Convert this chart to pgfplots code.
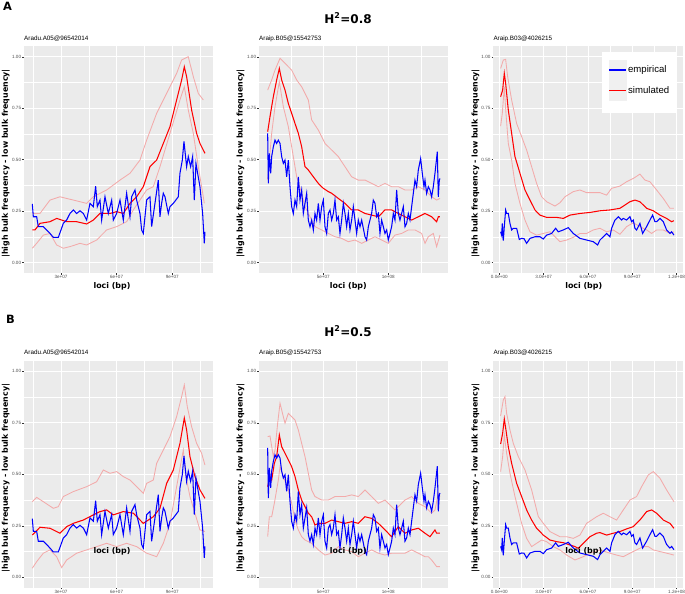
\documentclass[border=0pt]{standalone}
\usepackage{fontspec}
\setmainfont{Liberation Sans}
\newfontfamily\djb{DejaVu Sans}
\usepackage{pgfplots}
\pgfplotsset{compat=1.18}
\usepackage{pgfplotstable}
\definecolor{ggbg}{RGB}{235,235,235}
\definecolor{gg30}{RGB}{77,77,77}
\definecolor{gg20}{RGB}{51,51,51}
\definecolor{ggkey}{RGB}{240,240,240}
\definecolor{lred}{RGB}{243,170,170}
\newcommand\labfont{\djb\bfseries\fontsize{7.9}{9}\selectfont}
\pgfplotsset{
  gg/.style={
    scale only axis, width=189.3pt, height=227pt, anchor=south west,
    ymin=-0.05, ymax=1.052,
    axis background/.style={fill=ggbg},
    axis line style={draw=none},
    grid=both,
    major grid style={draw=white, line width=0.9pt},
    minor grid style={draw=white, line width=0.45pt},
    ytick={0,0.25,0.5,0.75,1}, yticklabels={0.00,0.25,0.50,0.75,1.00},
    minor ytick={0.125,0.375,0.625,0.875},
    tick align=outside, xtick pos=bottom, ytick pos=left,
    major tick length=1.6pt, minor tick length=0pt,
    tick style={draw=gg20, line width=0.4pt},
    ticklabel style={font=\fontsize{4.6}{5}\selectfont, text=gg30, inner sep=0.5pt},
    yticklabel style={xshift=-0.6pt},
    xticklabel style={yshift=-0.4pt},
  },
  lr/.style={draw=lred, line width=0.85pt, forget plot},
  sim/.style={draw=red, line width=1.05pt},
  emp/.style={draw=blue, line width=1.05pt},
  simkey/.style={legend image code/.code={\fill[ggkey] (0pt,-10pt) rectangle (17.3pt,10pt); \draw[red, line width=1.5pt] (0.3pt,0pt) -- (17pt,0pt);}},
  empkey/.style={legend image code/.code={\fill[ggkey] (0pt,-10pt) rectangle (17.3pt,10pt); \draw[blue, line width=1.5pt] (0.3pt,0pt) -- (17pt,0pt);}},
}
% empirical series (same in both rows)
\pgfplotstableread[row sep=\\]{
14.55 0.285\\ 15.09 0.223\\ 16.89 0.223\\ 17.78 0.175\\ 20.48 0.175\\ 22.28 0.159\\ 24.07 0.142\\ 25.87 0.123\\ 28.56 0.123\\ 30.00 0.159\\
31.26 0.191\\ 33.05 0.207\\ 34.85 0.239\\ 36.65 0.256\\ 38.44 0.239\\ 40.24 0.252\\ 42.04 0.239\\ 43.83 0.207\\ 45.63 0.288\\ 47.43 0.272\\
48.68 0.372\\ 49.58 0.272\\ 51.02 0.304\\ 51.92 0.207\\ 53.71 0.320\\ 55.51 0.239\\ 57.31 0.304\\ 58.20 0.207\\ 60.00 0.239\\ 61.80 0.304\\
63.59 0.207\\ 65.39 0.337\\ 67.19 0.223\\ 68.08 0.320\\ 69.88 0.353\\ 70.78 0.304\\ 72.57 0.239\\ 73.47 0.159\\ 74.37 0.142\\ 76.17 0.304\\
77.96 0.320\\ 78.86 0.175\\ 80.66 0.288\\ 82.45 0.401\\ 83.35 0.223\\ 84.25 0.288\\ 85.15 0.337\\ 86.05 0.320\\ 87.84 0.239\\ 88.74 0.272\\
90.54 0.288\\ 93.23 0.320\\ 94.13 0.434\\ 95.39 0.498\\ 96.29 0.589\\ 97.72 0.466\\ 98.62 0.515\\ 99.88 0.466\\ 100.96 0.515\\ 101.86 0.304\\
102.75 0.482\\ 103.65 0.434\\ 104.91 0.369\\ 106.35 0.239\\ 107.25 0.094\\ 107.60 0.150\\
}\empA
\pgfplotstableread[row sep=\\]{
7.18 0.628\\ 7.69 0.385\\ 8.46 0.531\\ 9.49 0.434\\ 10.26 0.515\\ 11.54 0.563\\ 12.82 0.595\\ 14.10 0.579\\ 15.38 0.595\\ 16.67 0.579\\
17.95 0.515\\ 19.23 0.482\\ 20.51 0.498\\ 21.79 0.417\\ 23.08 0.498\\ 24.36 0.369\\ 25.64 0.272\\ 26.92 0.239\\ 28.21 0.304\\ 29.49 0.272\\
30.77 0.417\\ 32.05 0.304\\ 33.33 0.353\\ 34.62 0.239\\ 35.90 0.288\\ 37.18 0.337\\ 38.46 0.207\\ 39.74 0.175\\ 41.03 0.207\\ 42.31 0.159\\
43.59 0.239\\ 44.87 0.207\\ 46.15 0.288\\ 47.44 0.207\\ 48.72 0.272\\ 50.00 0.304\\ 51.28 0.175\\ 52.56 0.142\\ 53.85 0.239\\ 55.13 0.256\\
56.41 0.207\\ 57.69 0.239\\ 58.97 0.304\\ 60.26 0.207\\ 61.54 0.223\\ 62.82 0.142\\ 64.10 0.207\\ 65.38 0.288\\ 66.67 0.239\\ 67.95 0.175\\
69.23 0.239\\ 70.51 0.159\\ 71.79 0.207\\ 73.08 0.272\\ 74.36 0.207\\ 75.64 0.142\\ 76.92 0.207\\ 78.21 0.175\\ 79.49 0.207\\ 82.05 0.126\\
83.33 0.110\\ 84.62 0.175\\ 87.18 0.239\\ 88.46 0.304\\ 89.74 0.288\\ 91.03 0.223\\ 92.31 0.239\\ 93.59 0.142\\ 94.87 0.207\\ 96.15 0.175\\
97.44 0.142\\ 98.72 0.159\\ 100.00 0.110\\ 101.28 0.142\\ 102.56 0.175\\ 103.85 0.239\\ 105.13 0.207\\ 106.41 0.353\\ 107.69 0.239\\ 108.97 0.207\\
110.26 0.239\\ 111.54 0.272\\ 112.82 0.175\\ 114.10 0.191\\ 115.38 0.239\\ 116.67 0.207\\ 117.95 0.272\\ 119.23 0.337\\ 120.51 0.401\\ 121.79 0.369\\
123.08 0.450\\ 124.87 0.506\\ 126.15 0.434\\ 127.44 0.369\\ 128.21 0.401\\ 129.49 0.337\\ 130.77 0.369\\ 132.05 0.353\\ 133.33 0.320\\ 134.62 0.369\\
135.90 0.434\\ 137.69 0.539\\ 138.46 0.320\\ 139.23 0.401\\ 139.74 0.409\\
}\empB
\pgfplotstableread[row sep=\\]{
0.90 0.150\\ 1.58 0.134\\ 2.03 0.191\\ 2.71 0.107\\ 3.38 0.175\\ 4.29 0.256\\ 4.96 0.239\\ 6.09 0.239\\ 7.22 0.191\\ 8.35 0.159\\
9.47 0.167\\ 11.73 0.167\\ 13.53 0.113\\ 15.11 0.118\\ 16.69 0.117\\ 18.50 0.094\\ 20.75 0.118\\ 24.14 0.126\\ 27.52 0.126\\ 29.77 0.115\\
32.03 0.134\\ 35.41 0.142\\ 38.12 0.167\\ 39.92 0.150\\ 43.31 0.159\\ 46.69 0.170\\ 50.07 0.142\\ 54.59 0.118\\ 59.10 0.110\\ 63.61 0.102\\
66.54 0.086\\ 68.12 0.110\\ 70.37 0.126\\ 72.63 0.142\\ 74.89 0.126\\ 76.01 0.167\\ 78.27 0.207\\ 80.52 0.223\\ 82.78 0.207\\ 83.91 0.215\\
86.16 0.207\\ 88.42 0.223\\ 89.55 0.199\\ 90.68 0.207\\ 91.80 0.167\\ 92.93 0.159\\ 95.19 0.191\\ 96.99 0.142\\ 99.70 0.175\\ 101.95 0.207\\
103.76 0.231\\ 105.34 0.199\\ 106.46 0.199\\ 108.72 0.215\\ 110.98 0.199\\ 113.23 0.159\\ 115.49 0.142\\ 116.62 0.150\\ 118.19 0.134\\
}\empC
\begin{document}
\begin{tikzpicture}[x=1pt,y=1pt]
\useasboundingbox (0,0) rectangle (685,594);
% ---------------- row A ----------------
\begin{axis}[gg, at={(24pt,321pt)}, xmin=10.06, xmax=112.1,
  xtick={30,60,90}, xticklabels={3e+07,6e+07,9e+07}, minor xtick={15,45,75,105}]
\addplot[lr] table[row sep=\\]{14.55 0.239\\ 18.68 0.239\\ 24.07 0.304\\ 29.46 0.320\\ 36.65 0.304\\ 43.83 0.288\\ 47.43 0.320\\ 54.61 0.353\\ 61.80 0.401\\ 67.19 0.434\\ 72.57 0.498\\ 76.17 0.595\\ 81.56 0.725\\ 86.95 0.822\\ 92.33 0.919\\ 95.03 0.984\\ 96.83 0.992\\ 98.62 1.000\\ 101.32 0.903\\ 104.01 0.822\\ 106.71 0.790\\};
\addplot[lr] table[row sep=\\]{14.55 0.070\\ 16.89 0.094\\ 20.48 0.134\\ 24.07 0.142\\ 27.66 0.086\\ 31.26 0.070\\ 34.85 0.078\\ 40.24 0.094\\ 43.83 0.086\\ 49.22 0.110\\ 54.61 0.159\\ 60.00 0.175\\ 65.39 0.199\\ 68.98 0.256\\ 72.57 0.304\\ 76.17 0.353\\ 79.76 0.369\\ 83.35 0.466\\ 88.74 0.628\\ 94.13 0.790\\ 96.47 0.854\\ 98.62 0.741\\ 101.32 0.628\\ 104.01 0.466\\ 106.71 0.320\\ 107.25 0.288\\};
\addplot[sim] table[row sep=\\]{14.55 0.159\\ 15.99 0.159\\ 18.68 0.191\\ 24.07 0.199\\ 27.66 0.215\\ 33.05 0.199\\ 38.44 0.199\\ 43.83 0.188\\ 47.43 0.207\\ 51.02 0.239\\ 56.41 0.239\\ 60.00 0.248\\ 63.59 0.239\\ 67.19 0.288\\ 70.78 0.320\\ 74.37 0.369\\ 77.96 0.466\\ 81.56 0.498\\ 85.15 0.579\\ 88.74 0.660\\ 92.33 0.790\\ 95.03 0.887\\ 96.47 0.951\\ 97.72 0.903\\ 100.42 0.741\\ 103.11 0.628\\ 104.91 0.579\\ 107.60 0.531\\};
\addplot[emp] table {\empA};
\end{axis}
\begin{axis}[gg, at={(259pt,321pt)}, xmin=0.51, xmax=146.15,
  xtick={50,100}, xticklabels={5e+07,1e+08}, minor xtick={25,75,125}]
\addplot[lr] table[row sep=\\]{7.18 0.838\\ 10.26 0.887\\ 12.82 0.935\\ 16.67 0.992\\ 20.51 0.968\\ 25.64 0.935\\ 29.49 0.887\\ 33.33 0.854\\ 35.90 0.822\\ 38.46 0.790\\ 41.03 0.693\\ 46.15 0.644\\ 51.28 0.579\\ 56.41 0.547\\ 61.54 0.515\\ 66.67 0.466\\ 71.79 0.417\\ 76.92 0.401\\ 82.05 0.401\\ 87.18 0.385\\ 92.31 0.369\\ 97.44 0.385\\ 102.56 0.369\\ 107.69 0.369\\ 112.82 0.353\\ 117.95 0.353\\ 123.08 0.369\\ 128.21 0.353\\ 133.33 0.320\\ 137.18 0.304\\ 139.74 0.312\\};
\addplot[lr] table[row sep=\\]{7.18 0.401\\ 10.26 0.628\\ 12.82 0.757\\ 16.15 0.879\\ 19.23 0.757\\ 23.08 0.660\\ 25.64 0.563\\ 29.49 0.417\\ 33.33 0.337\\ 35.90 0.272\\ 38.46 0.239\\ 43.59 0.175\\ 48.72 0.159\\ 53.85 0.142\\ 58.97 0.126\\ 64.10 0.118\\ 69.23 0.102\\ 74.36 0.110\\ 79.49 0.094\\ 84.62 0.110\\ 89.74 0.126\\ 94.87 0.110\\ 100.00 0.094\\ 105.13 0.134\\ 110.26 0.142\\ 115.38 0.159\\ 120.51 0.159\\ 125.64 0.142\\ 128.21 0.094\\ 130.77 0.126\\ 134.62 0.142\\ 137.18 0.078\\ 139.74 0.134\\};
\addplot[sim] table[row sep=\\]{7.18 0.636\\ 8.97 0.709\\ 11.54 0.806\\ 14.10 0.887\\ 16.15 0.943\\ 17.95 0.887\\ 20.51 0.838\\ 23.08 0.773\\ 25.64 0.725\\ 28.21 0.676\\ 30.77 0.628\\ 33.33 0.563\\ 35.90 0.466\\ 38.46 0.450\\ 42.31 0.417\\ 46.15 0.385\\ 50.00 0.361\\ 53.85 0.345\\ 56.41 0.337\\ 61.54 0.312\\ 66.67 0.288\\ 71.79 0.256\\ 76.92 0.256\\ 82.05 0.239\\ 87.18 0.231\\ 92.31 0.223\\ 97.44 0.256\\ 102.56 0.256\\ 107.69 0.239\\ 112.82 0.223\\ 117.95 0.207\\ 123.08 0.223\\ 128.21 0.239\\ 133.33 0.223\\ 137.18 0.199\\ 138.46 0.223\\ 139.74 0.223\\};
\addplot[emp] table {\empB};
\end{axis}
\begin{axis}[gg, at={(493.3pt,321pt)}, xmin=-4.06, xmax=124.06,
  xtick={0,30,60,90,120}, xticklabels={0.0e+00,3.0e+07,6.0e+07,9.0e+07,1.2e+08}, minor xtick={15,45,75,105},
  legend image code/.code={},
  legend style={at={(rel axis cs:0.972,0.975)}, anchor=north east, fill=white, draw=none,
    font=\fontsize{9.6}{11}\selectfont, inner xsep=6.5pt, inner ysep=8pt, row sep=0pt,
    nodes={inner sep=1.4pt}},
  legend cell align=left]
\addplot[lr] table[row sep=\\]{0.90 0.943\\ 2.71 0.984\\ 4.29 0.987\\ 5.64 0.903\\ 8.35 0.790\\ 11.73 0.676\\ 15.11 0.612\\ 18.50 0.547\\ 21.88 0.466\\ 25.26 0.385\\ 28.65 0.320\\ 32.03 0.296\\ 37.67 0.275\\ 41.05 0.291\\ 44.44 0.320\\ 50.07 0.345\\ 54.59 0.353\\ 59.10 0.340\\ 68.12 0.340\\ 72.63 0.328\\ 76.01 0.361\\ 81.65 0.372\\ 86.16 0.393\\ 90.68 0.409\\ 95.19 0.430\\ 98.57 0.401\\ 101.95 0.393\\ 106.46 0.353\\ 110.98 0.312\\ 115.49 0.264\\ 118.19 0.264\\};
\addplot[lr] table[row sep=\\]{0.90 0.663\\ 2.03 0.725\\ 3.38 0.854\\ 4.51 0.725\\ 6.09 0.579\\ 8.35 0.498\\ 10.60 0.385\\ 13.98 0.288\\ 17.37 0.207\\ 20.75 0.150\\ 25.26 0.134\\ 29.77 0.142\\ 34.28 0.150\\ 37.67 0.126\\ 41.05 0.102\\ 45.56 0.110\\ 50.07 0.123\\ 54.59 0.142\\ 59.10 0.142\\ 63.61 0.159\\ 68.12 0.167\\ 72.63 0.150\\ 77.14 0.159\\ 81.65 0.138\\ 86.16 0.175\\ 90.68 0.194\\ 95.19 0.175\\ 99.70 0.159\\ 103.08 0.142\\ 106.46 0.159\\ 110.98 0.159\\ 115.49 0.142\\ 118.19 0.150\\};
\addplot[sim, forget plot] table[row sep=\\]{0.90 0.806\\ 2.26 0.838\\ 3.38 0.919\\ 4.29 0.871\\ 6.09 0.741\\ 8.35 0.628\\ 10.60 0.515\\ 13.98 0.434\\ 17.37 0.353\\ 20.75 0.304\\ 24.14 0.256\\ 27.52 0.231\\ 32.03 0.220\\ 38.80 0.220\\ 43.31 0.215\\ 47.82 0.231\\ 54.59 0.239\\ 61.35 0.244\\ 68.12 0.252\\ 74.89 0.256\\ 81.65 0.264\\ 88.42 0.296\\ 91.80 0.304\\ 95.19 0.296\\ 99.70 0.264\\ 104.21 0.252\\ 108.72 0.231\\ 113.23 0.215\\ 116.62 0.199\\ 118.19 0.204\\};
\addplot[emp, forget plot] table {\empC};
\addlegendimage{empkey}
\addlegendentry{empirical}
\addlegendimage{simkey}
\addlegendentry{simulated}
\addlegendimage{}
\addlegendentry{}
\end{axis}
% ---------------- row B ----------------
\begin{axis}[gg, at={(24pt,6.4pt)}, xmin=10.06, xmax=112.1,
  xtick={30,60,90}, xticklabels={3e+07,6e+07,9e+07}, minor xtick={15,45,75,105}]
\addplot[lr] table[row sep=\\]{14.55 0.367\\ 16.89 0.388\\ 20.48 0.367\\ 25.87 0.335\\ 28.56 0.343\\ 31.26 0.392\\ 36.65 0.416\\ 43.83 0.440\\ 49.22 0.464\\ 52.81 0.521\\ 56.41 0.505\\ 60.00 0.513\\ 63.59 0.489\\ 67.19 0.472\\ 70.78 0.440\\ 74.37 0.408\\ 76.17 0.456\\ 79.76 0.472\\ 81.56 0.553\\ 85.15 0.618\\ 88.74 0.683\\ 92.33 0.780\\ 95.03 0.877\\ 96.47 0.934\\ 98.08 0.828\\ 100.42 0.731\\ 103.11 0.650\\ 105.81 0.602\\ 107.60 0.545\\};
\addplot[lr] table[row sep=\\]{14.55 0.044\\ 16.89 0.076\\ 20.48 0.117\\ 24.07 0.133\\ 27.66 0.100\\ 30.36 0.047\\ 33.05 0.084\\ 38.44 0.117\\ 43.83 0.133\\ 49.22 0.149\\ 54.61 0.165\\ 60.00 0.149\\ 65.39 0.165\\ 70.78 0.149\\ 76.17 0.117\\ 81.56 0.100\\ 85.15 0.165\\ 88.74 0.262\\ 92.33 0.440\\ 95.93 0.618\\ 97.37 0.489\\ 99.52 0.392\\ 102.21 0.311\\ 104.91 0.230\\ 107.60 0.222\\};
\addplot[sim] table[row sep=\\]{14.55 0.205\\ 18.68 0.243\\ 24.07 0.238\\ 29.46 0.214\\ 33.05 0.246\\ 36.65 0.262\\ 42.04 0.278\\ 47.43 0.303\\ 51.02 0.319\\ 54.61 0.327\\ 58.20 0.303\\ 63.59 0.319\\ 68.98 0.311\\ 74.37 0.262\\ 79.76 0.294\\ 83.35 0.335\\ 86.95 0.456\\ 90.54 0.521\\ 94.13 0.650\\ 96.47 0.773\\ 97.72 0.715\\ 99.52 0.586\\ 102.21 0.489\\ 104.91 0.424\\ 107.60 0.383\\};
\addplot[emp] table {\empA};
\end{axis}
\begin{axis}[gg, at={(259pt,6.4pt)}, xmin=0.51, xmax=146.15,
  xtick={50,100}, xticklabels={5e+07,1e+08}, minor xtick={25,75,125}]
\addplot[lr] table[row sep=\\]{7.18 0.683\\ 8.97 0.686\\ 11.54 0.586\\ 12.82 0.618\\ 14.87 0.748\\ 16.67 0.845\\ 19.23 0.780\\ 20.51 0.748\\ 23.08 0.796\\ 25.64 0.780\\ 28.21 0.764\\ 30.77 0.715\\ 33.33 0.650\\ 35.90 0.586\\ 38.46 0.505\\ 41.03 0.424\\ 43.59 0.392\\ 48.72 0.375\\ 53.85 0.375\\ 58.97 0.392\\ 66.67 0.392\\ 71.79 0.400\\ 76.92 0.392\\ 82.05 0.424\\ 87.18 0.392\\ 92.31 0.359\\ 97.44 0.375\\ 102.56 0.343\\ 105.13 0.327\\ 107.69 0.343\\ 112.82 0.375\\ 117.95 0.392\\ 123.08 0.359\\ 128.21 0.343\\ 133.33 0.311\\ 135.90 0.327\\ 138.46 0.408\\ 139.74 0.392\\};
\addplot[lr] table[row sep=\\]{7.18 0.197\\ 8.46 0.294\\ 10.26 0.294\\ 12.31 0.359\\ 15.38 0.472\\ 16.67 0.537\\ 19.23 0.489\\ 23.08 0.424\\ 25.64 0.359\\ 28.21 0.278\\ 30.77 0.230\\ 33.33 0.197\\ 35.90 0.181\\ 41.03 0.165\\ 46.15 0.133\\ 51.28 0.108\\ 56.41 0.117\\ 61.54 0.149\\ 66.67 0.133\\ 71.79 0.125\\ 76.92 0.100\\ 82.05 0.117\\ 87.18 0.133\\ 92.31 0.117\\ 97.44 0.108\\ 102.56 0.117\\ 107.69 0.117\\ 112.82 0.117\\ 117.95 0.133\\ 123.08 0.117\\ 128.21 0.100\\ 130.77 0.100\\ 133.33 0.084\\ 137.18 0.052\\ 139.74 0.052\\};
\addplot[sim] table[row sep=\\]{7.18 0.440\\ 8.97 0.489\\ 10.26 0.472\\ 12.31 0.553\\ 14.10 0.586\\ 16.15 0.691\\ 17.95 0.634\\ 20.51 0.602\\ 23.08 0.570\\ 25.64 0.537\\ 28.21 0.489\\ 30.77 0.424\\ 33.33 0.375\\ 35.90 0.343\\ 38.46 0.311\\ 41.03 0.294\\ 43.59 0.254\\ 46.15 0.262\\ 51.28 0.262\\ 56.41 0.278\\ 61.54 0.270\\ 66.67 0.262\\ 71.79 0.270\\ 76.92 0.262\\ 82.05 0.294\\ 87.18 0.286\\ 92.31 0.262\\ 97.44 0.230\\ 102.56 0.197\\ 107.69 0.246\\ 112.82 0.214\\ 117.95 0.230\\ 123.08 0.238\\ 128.21 0.214\\ 132.05 0.197\\ 135.90 0.230\\ 137.18 0.214\\ 139.74 0.214\\};
\addplot[emp] table {\empB};
\end{axis}
\begin{axis}[gg, at={(493.3pt,6.4pt)}, xmin=-4.06, xmax=124.06,
  xtick={0,30,60,90,120}, xticklabels={0.0e+00,3.0e+07,6.0e+07,9.0e+07,1.2e+08}, minor xtick={15,45,75,105}]
\addplot[lr] table[row sep=\\]{0.90 0.783\\ 2.71 0.861\\ 3.83 0.877\\ 4.96 0.796\\ 7.22 0.715\\ 9.47 0.650\\ 12.86 0.586\\ 17.37 0.521\\ 21.88 0.424\\ 26.39 0.295\\ 29.77 0.262\\ 34.28 0.222\\ 41.05 0.197\\ 45.56 0.197\\ 50.07 0.189\\ 54.59 0.205\\ 59.10 0.262\\ 65.86 0.294\\ 70.37 0.311\\ 74.89 0.294\\ 79.40 0.278\\ 83.91 0.327\\ 88.42 0.375\\ 92.93 0.392\\ 96.32 0.440\\ 100.83 0.497\\ 104.21 0.513\\ 108.72 0.481\\ 113.23 0.424\\ 118.19 0.367\\};
\addplot[lr] table[row sep=\\]{0.90 0.513\\ 2.26 0.586\\ 3.38 0.691\\ 4.96 0.602\\ 7.22 0.505\\ 10.60 0.392\\ 15.11 0.262\\ 18.50 0.189\\ 21.88 0.149\\ 25.26 0.165\\ 28.65 0.181\\ 32.03 0.173\\ 36.54 0.149\\ 41.05 0.133\\ 45.56 0.108\\ 51.20 0.084\\ 56.84 0.100\\ 61.35 0.117\\ 68.12 0.133\\ 74.89 0.117\\ 79.40 0.108\\ 83.91 0.100\\ 88.42 0.117\\ 92.93 0.133\\ 97.44 0.149\\ 100.83 0.149\\ 104.21 0.133\\ 108.72 0.125\\ 113.23 0.117\\ 118.19 0.108\\};
\addplot[sim] table[row sep=\\]{0.90 0.647\\ 2.26 0.699\\ 3.38 0.769\\ 4.51 0.715\\ 6.09 0.634\\ 8.35 0.553\\ 11.73 0.456\\ 15.11 0.392\\ 18.50 0.327\\ 21.88 0.278\\ 25.26 0.238\\ 29.77 0.205\\ 34.28 0.181\\ 38.80 0.173\\ 43.31 0.168\\ 47.82 0.157\\ 51.20 0.149\\ 53.46 0.141\\ 56.84 0.165\\ 61.35 0.197\\ 65.86 0.214\\ 68.12 0.217\\ 72.63 0.205\\ 77.14 0.214\\ 81.65 0.222\\ 86.16 0.235\\ 90.68 0.246\\ 95.19 0.278\\ 99.70 0.319\\ 103.08 0.327\\ 106.46 0.311\\ 110.98 0.278\\ 115.49 0.262\\ 118.19 0.238\\};
\addplot[emp] table {\empC};
\end{axis}
% ---------------- labels ----------------
\node[anchor=west, inner sep=0pt, font=\djb\bfseries\fontsize{11.4}{12}\selectfont] at (3,588) {A};
\node[anchor=west, inner sep=0pt, font=\djb\bfseries\fontsize{11.4}{12}\selectfont] at (6,275) {B};
\node[inner sep=0pt, font=\djb\bfseries\fontsize{12}{14}\selectfont] at (348,576) {H\textsuperscript{2}=0.8};
\node[inner sep=0pt, font=\djb\bfseries\fontsize{12}{14}\selectfont] at (348,263) {H\textsuperscript{2}=0.5};
\foreach \xx/\tt in {24/Aradu.A05@96542014, 259/Araip.B05@15542753, 493.3/Araip.B03@4026215}{
  \node[anchor=west, inner sep=0pt, font=\fontsize{6.3}{7}\selectfont] at (\xx,555.3) {\tt};
  \node[anchor=west, inner sep=0pt, font=\fontsize{6.3}{7}\selectfont] at (\xx,241) {\tt};
}
\foreach \xx in {5.8,240.5,475.5}{
  \node[rotate=90, inner sep=0pt, font=\labfont] at (\xx,430.5) {|high bulk frequency - low bulk frequency|};
  \node[rotate=90, inner sep=0pt, font=\labfont] at (\xx,115.9) {|high bulk frequency - low bulk frequency|};
}
\foreach \xx in {112,348.3,583.7}{
  \node[inner sep=0pt, font=\labfont] at (\xx,307.3) {loci (bp)};
  \node[inner sep=0pt, font=\labfont] at (\xx,43) {loci (bp)};
}
\end{tikzpicture}
\end{document}
